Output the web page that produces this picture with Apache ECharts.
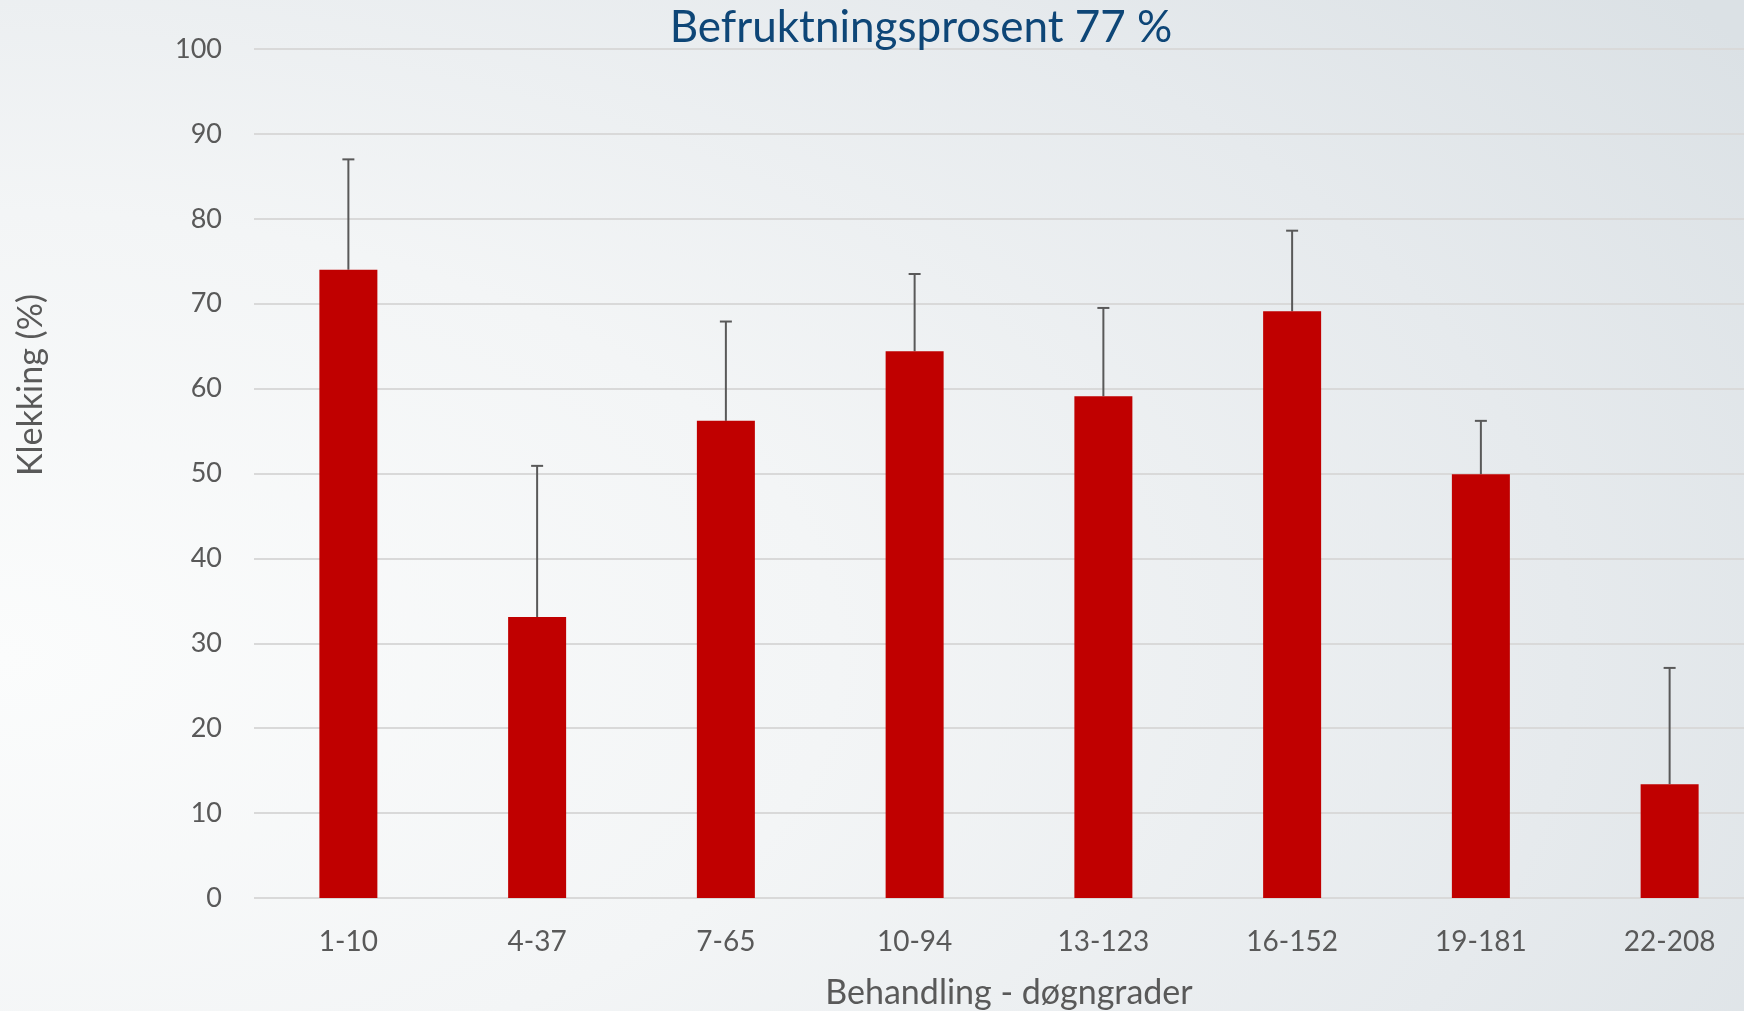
<!DOCTYPE html>
<html>
<head>
<meta charset="utf-8">
<script src="https://cdn.jsdelivr.net/npm/echarts@6/dist/echarts.min.js"></script>
<style>
html, body { margin: 0; padding: 0; }
#chart {
    width: 1744px;
    height: 1011px;
    background: radial-gradient(ellipse 120% 110% at 0% 65%, #fbfcfc 0%, #f3f5f6 40%, #e6eaed 75%, #dbe1e5 100%);
}
</style>
</head>
<body>
<div id="chart"></div>
<script>
var categories = ['1-10', '4-37', '7-65', '10-94', '13-123', '16-152', '19-181', '22-208'];
var klekking = [74, 33.1, 56.2, 64.4, 59.1, 69.1, 49.9, 13.4];
var errorTop = [87, 50.9, 67.9, 73.5, 69.5, 78.6, 56.2, 27.1];
var yTicks = [0, 10, 20, 30, 40, 50, 60, 70, 80, 90, 100];

var font = 'Lato';
var grey = '#595959';

var errorData = categories.map(function (c, i) {
    return [i, klekking[i], errorTop[i]];
});

var chart = echarts.init(document.getElementById('chart'));
chart.setOption({
    backgroundColor: 'transparent',
    animation: false,
    title: {
        text: 'Befruktningsprosent 77 %',
        left: 916,
        top: 1,
        textAlign: 'center',
        textStyle: { color: '#0e4677', fontFamily: font, fontSize: 44, fontWeight: 'normal' }
    },
    graphic: [{
        type: 'text',
        x: 31,
        y: 385,
        rotation: Math.PI / 2,
        style: {
            text: 'Klekking (%)',
            fill: grey,
            font: '34px ' + font,
            align: 'center',
            verticalAlign: 'middle'
        }
    }],
    grid: { left: 254, right: -20, top: 49, bottom: 113, outerBoundsMode: 'none', containLabel: false },
    xAxis: {
        type: 'category',
        data: categories,
        axisLine: { show: false },
        axisTick: { show: false },
        axisLabel: { color: grey, fontFamily: font, fontSize: 28, margin: 30 },
        name: 'Behandling - døgngrader',
        nameLocation: 'middle',
        nameGap: 78,
        nameTextStyle: { color: grey, fontFamily: font, fontSize: 34 }
    },
    yAxis: {
        type: 'value',
        min: yTicks[0],
        max: yTicks[yTicks.length - 1],
        interval: 10,
        axisLine: { show: false },
        axisTick: { show: false },
        axisLabel: { color: grey, fontFamily: font, fontSize: 27, margin: 32 },
        splitLine: { lineStyle: { color: '#d9d9d9', width: 2 } }
    },
    series: [{
        type: 'bar',
        data: klekking,
        barWidth: 58,
        itemStyle: { color: '#c00000' },
        z: 2
    }, {
        type: 'custom',
        data: errorData,
        z: 1,
        renderItem: function (params, api) {
            var base = api.coord([api.value(0), api.value(1)]);
            var top = api.coord([api.value(0), api.value(2)]);
            var cap = 6;
            var style = { stroke: grey, lineWidth: 2 };
            return {
                type: 'group',
                children: [{
                    type: 'line',
                    shape: { x1: base[0], y1: base[1], x2: top[0], y2: top[1] },
                    style: style
                }, {
                    type: 'line',
                    shape: { x1: top[0] - cap, y1: top[1], x2: top[0] + cap, y2: top[1] },
                    style: style
                }]
            };
        }
    }]
});
</script>
</body>
</html>
